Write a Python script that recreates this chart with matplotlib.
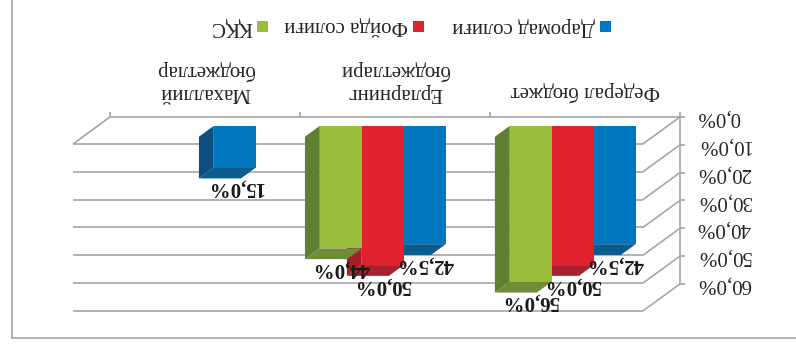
import matplotlib
matplotlib.use("Agg")
import matplotlib.pyplot as plt
from matplotlib.patches import Polygon, Rectangle
from matplotlib.lines import Line2D

budgets = ["Федерал бюджет", "Ерларнинг\nбюджетлари", "Махаллий\nбюджетлар"]
taxes = ["Даромад солиғи", "Фойда солиғи", "ҚҚС"]
income_tax = [42.5, 42.5, 15.0]
profit_tax = [50.0, 50.0, None]
vat = [56.0, 44.0, None]
y_ticks = [0, 10, 20, 30, 40, 50, 60]

# front, side and end faces of each column
colors = [("#0077be", "#0d4f80", "#0a5b8e"),
          ("#e0222f", "#a51d29", "#a8222d"),
          ("#9abd3c", "#617f32", "#6d8d36")]

SERIF = ["Liberation Serif", "DejaVu Serif"]
DX, DV = 0.195, 9.7    # depth of the 3-D box in data units
D1, D2 = 0.33, 0.73    # front and back of the columns inside the box
W = 0.221              # column width

def pct(v):
    return f"{v:.1f}%".replace(".", ",")

fig = plt.figure(figsize=(7.96, 3.44), dpi=100)
ax = fig.add_axes([0, 0, 1, 1])
# the whole chart is drawn turned over: both axes reversed, text upside down
ax.set_xlim(3.079, -1.111)
ax.set_ylim(81.57, -42.04)
ax.axis("off")

grid = dict(color="#a6a6a6", lw=1.2, zorder=1, solid_capstyle="butt")
n = len(budgets)
left, right = -0.5, n - 0.5
for t in y_ticks:
    ax.plot([left, left + DX], [t, t + DV], **grid)
    ax.plot([left + DX, right + DX], [t + DV, t + DV], **grid)
    ax.plot([left, left - 0.026], [t, t], **grid)
    ax.text(left - 0.089, t, pct(t), rotation=180, ha="left", va="center",
            fontsize=15, family=SERIF, color="#262626")

# floor edges, value axis and category ticks
ax.plot([left, right], [0, 0], **grid)
ax.plot([right, right + DX], [0, DV], **grid)
ax.plot([left, left], [0, y_ticks[-1]], **grid)
for b in range(n + 1):
    ax.plot([b - 0.5] * 2, [0, -1.8], **grid)

for k, name in enumerate(budgets):
    ax.text(k, -5.4, name, rotation=180, ha="center", va="bottom",
            multialignment="center", fontsize=15, family=SERIF,
            color="#262626", linespacing=1.15)


def column(xc, v, cols, z):
    x0, x1 = xc - W / 2, xc + W / 2
    front, side, end = cols
    f = [(x0 + D1 * DX, D1 * DV), (x1 + D1 * DX, D1 * DV),
         (x1 + D1 * DX, v + D1 * DV), (x0 + D1 * DX, v + D1 * DV)]
    s = [(x1 + D1 * DX, D1 * DV), (x1 + D2 * DX, D2 * DV),
         (x1 + D2 * DX, v + D2 * DV), (x1 + D1 * DX, v + D1 * DV)]
    e = [(x0 + D1 * DX, v + D1 * DV), (x1 + D1 * DX, v + D1 * DV),
         (x1 + D2 * DX, v + D2 * DV), (x0 + D2 * DX, v + D2 * DV)]
    for pts, c in ((s, side), (e, end), (f, front)):
        ax.add_patch(Polygon(pts, closed=True, fc=c, ec="none", zorder=z))
    ax.annotate(pct(v), (xc + D1 * DX, v + D1 * DV), xytext=(0, -20),
                textcoords="offset pixels", rotation=180, ha="center",
                va="center", fontsize=15, fontweight="bold", family=SERIF,
                color="#1a1a1a", zorder=10)


for j, series in enumerate([income_tax, profit_tax, vat]):
    for k, v in enumerate(series):
        if v is None:
            continue
        column(k + (j - 1) * W, v, colors[j], 2 + j)

# legend along the top edge
legend_x = [0.7607, 0.5258, 0.330]
for name, cols, x in zip(taxes, colors, legend_x):
    fig.patches.append(Rectangle((x - 0.0069, 0.924 - 0.016), 0.0138, 0.032,
                                 transform=fig.transFigure, fc=cols[0], ec="none"))
    fig.text(x - 0.0132, 0.924, name, rotation=180, ha="right", va="center",
             fontsize=15, family=SERIF, color="#262626")

# chart frame
fig.add_artist(Line2D([0.015, 0.015], [0.017, 1.0], transform=fig.transFigure,
                      color="#a6a6a6", lw=1.2))
fig.add_artist(Line2D([0.015, 1.0], [0.017, 0.017], transform=fig.transFigure,
                      color="#a6a6a6", lw=1.2))

fig.savefig("out.png", dpi=100)
